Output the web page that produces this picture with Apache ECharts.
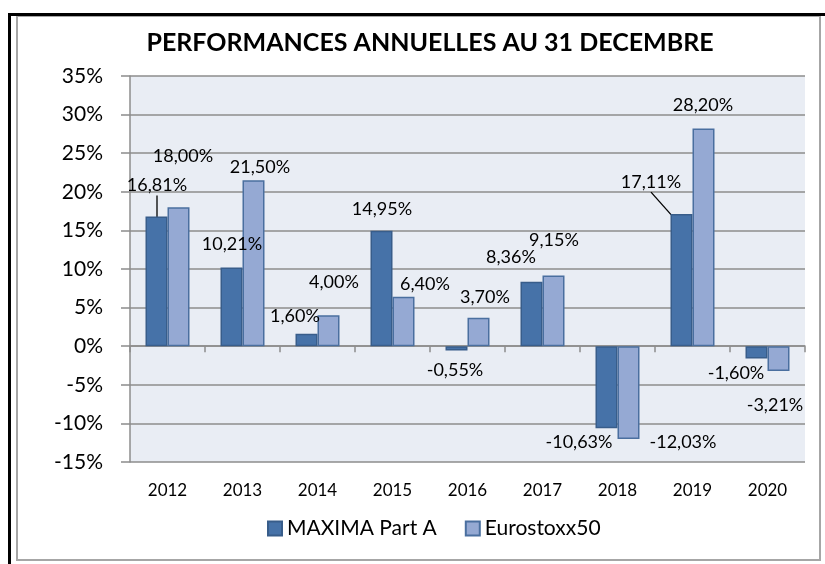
<!DOCTYPE html>
<html>
<head>
<meta charset="utf-8">
<script src="https://cdn.jsdelivr.net/npm/echarts@6/dist/echarts.min.js"></script>
<style>
    html, body { margin: 0; padding: 0; background: #fff; }
    #chart { width: 825px; height: 564px; }
</style>
</head>
<body>
<div id="chart"></div>
<script>
    var years = ['2012', '2013', '2014', '2015', '2016', '2017', '2018', '2019', '2020'];
    var maxima = [16.81, 10.21, 1.60, 14.95, -0.55, 8.36, -10.63, 17.11, -1.60];
    var eurostoxx = [18.00, 21.50, 4.00, 6.40, 3.70, 9.15, -12.03, 28.20, -3.21];

    // decalage des etiquettes par rapport au bout de la barre (comme dans le graphique Excel)
    var maximaLabelShift = [[0.5, -21], [0.5, -13], [-11.5, -7.6], [0.5, -11.6], [-1.5, 10], [-20.5, -14], [-27.5, 4], [-30.5, -22], [-20.5, 4.6]];
    var euroLabelShift = [[4.5, -41], [6.5, -3], [5.5, -23], [21.5, -2.6], [6.5, -10.4], [0.5, -25.4], [54.5, -7], [-0.5, -13.3], [-3.5, 24]];
    var withLeader = [0, 7];

    var fontName = 'Lato';

    function pct(v) {
        return v.toFixed(2).replace('.', ',') + '%';
    }

    function buildItems(values, leaders) {
        return values.map(function (v, i) {
            var item = {
                value: v,
                label: { position: v < 0 ? 'bottom' : 'top' }
            };
            if (leaders && leaders.indexOf(i) >= 0) {
                item.labelLine = { show: true, lineStyle: { color: '#000', width: 1.3 } };
            }
            return item;
        });
    }

    var labelStyle = {
        show: true,
        distance: 0,
        color: '#000',
        fontFamily: fontName,
        fontSize: 18,
        lineHeight: 20,
        formatter: function (p) { return pct(p.value); }
    };

    var chart = echarts.init(document.getElementById('chart'));

    var option = {
        animation: false,
        title: {
            text: 'PERFORMANCES ANNUELLES AU 31 DECEMBRE',
            left: 425,
            top: 25,
            textAlign: 'center',
            textStyle: { fontFamily: fontName, fontWeight: 'bold', fontSize: 25, color: '#000' }
        },
        graphic: [
            { type: 'rect', shape: { x: 17, y: 16, width: 803, height: 544 }, style: { fill: 'none', stroke: '#a6a6a6', lineWidth: 2 }, z: -1 },
            { type: 'rect', shape: { x: 8, y: 13, width: 3, height: 551 }, style: { fill: '#000' } },
            { type: 'rect', shape: { x: 8, y: 13, width: 817, height: 3 }, style: { fill: '#000' } }
        ],
        legend: {
            bottom: 20,
            left: 262,
            icon: 'rect',
            itemWidth: 14,
            itemHeight: 14,
            itemGap: 28,
            textStyle: { fontFamily: fontName, fontSize: 21, color: '#000' },
            data: ['MAXIMA Part A', 'Eurostoxx50']
        },
        grid: {
            left: 130,
            right: 20,
            top: 76,
            bottom: 102,
            show: true,
            backgroundColor: '#e9edf4',
            borderWidth: 0
        },
        xAxis: [
            {
                type: 'category',
                data: years,
                axisLine: { show: false, onZero: false },
                axisTick: { show: false },
                axisLabel: { margin: 20, color: '#000', fontFamily: fontName, fontSize: 17 }
            },
            {
                type: 'category',
                data: years,
                position: 'bottom',
                axisLine: { show: true, onZero: true, lineStyle: { color: '#8c8c8c', width: 1.5 } },
                axisTick: { show: true, length: 6, lineStyle: { color: '#8c8c8c', width: 1.5 } },
                axisLabel: { show: false }
            }
        ],
        yAxis: {
            type: 'value',
            min: -15,
            max: 35,
            interval: 5,
            axisLine: { show: true, lineStyle: { color: '#8c8c8c', width: 1.5 } },
            axisTick: { show: true, length: 9, lineStyle: { color: '#8c8c8c', width: 1.5 } },
            splitLine: { lineStyle: { color: '#8c8c8c', width: 1.5 } },
            axisLabel: {
                margin: 27,
                color: '#000',
                fontFamily: fontName,
                fontSize: 21,
                formatter: function (v) { return v + '%'; }
            }
        },
        series: [
            {
                name: 'MAXIMA Part A',
                type: 'bar',
                barWidth: 22,
                barGap: '0%',
                itemStyle: { color: '#4672a8', borderColor: '#385d8a', borderWidth: 1.5 },
                label: labelStyle,
                labelLayout: function (p) {
                    var s = maximaLabelShift[p.dataIndex];
                    return { dx: s[0], dy: s[1] };
                },
                data: buildItems(maxima, withLeader)
            },
            {
                name: 'Eurostoxx50',
                type: 'bar',
                barWidth: 22,
                barGap: '0%',
                itemStyle: { color: '#95a9d3', borderColor: '#4a6f9f', borderWidth: 1.5 },
                label: labelStyle,
                labelLayout: function (p) {
                    var s = euroLabelShift[p.dataIndex];
                    return { dx: s[0], dy: s[1] };
                },
                data: buildItems(eurostoxx)
            }
        ]
    };

    chart.setOption(option);
</script>
</body>
</html>
